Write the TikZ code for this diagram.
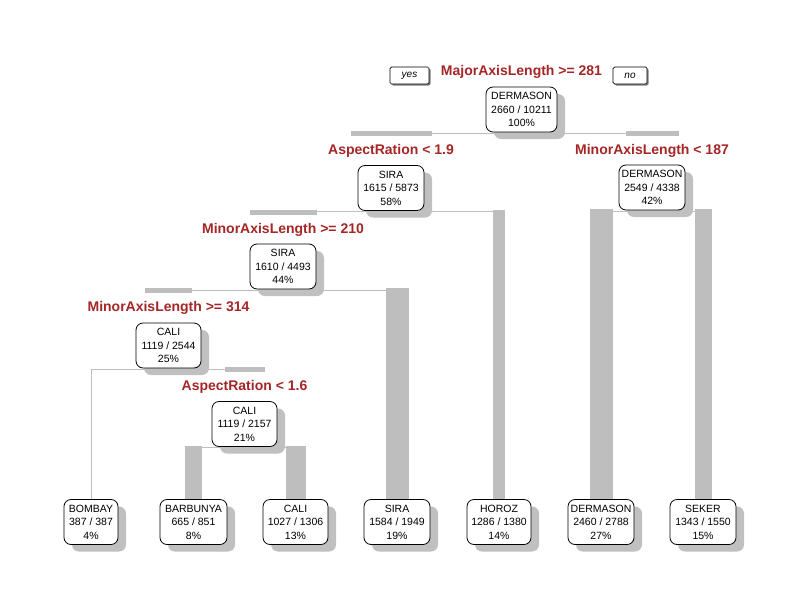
\documentclass[tikz,border=0pt]{standalone}
\usepackage{fontspec}
\setmainfont{Liberation Sans}
\usetikzlibrary{shadows}
\definecolor{splitred}{RGB}{165,38,38}
\definecolor{branchgray}{RGB}{190,190,190}
\definecolor{shadowgray}{RGB}{192,192,192}
\pgfdeclarelayer{paper}
\pgfdeclarelayer{bg}
\pgfsetlayers{paper,bg,main}
\begin{document}
\begin{tikzpicture}[x=1pt,y=-1pt,
  tnode/.style={draw=black, line width=0.8pt, fill=white, rounded corners=7pt,
    minimum height=45pt, inner sep=0pt, align=center,
    font=\fontsize{10.5}{13.5}\selectfont,
    drop shadow={shadow xshift=8pt, shadow yshift=-7pt, fill=shadowgray, opacity=1}},
  splitlab/.style={fill=white, inner xsep=2pt, inner ysep=0pt, text height=18pt,
    text depth=12pt, anchor=base, text=splitred,
    font=\fontsize{14}{16}\selectfont\bfseries},
  thinbranch/.style={draw=branchgray, line width=1pt},
  thickbranch/.style={draw=branchgray, line cap=butt},
  ynbox/.style={draw=black, line width=0.7pt, fill=white, rounded corners=1.5pt,
    minimum height=17pt, inner sep=0pt, font=\fontsize{10}{12}\selectfont\itshape,
    drop shadow={shadow xshift=1.5pt, shadow yshift=-1.5pt, fill=gray, opacity=1}}
]
\begin{pgfonlayer}{paper}
\fill[white] (0,0) rectangle (800,600);
\end{pgfonlayer}
\useasboundingbox (0,0) rectangle (800,600);

% split labels
\node[splitlab] (s1) at (521.5,75) {MajorAxisLength >= 281};
\node[splitlab] (s2) at (391,154) {AspectRation < 1.9};
\node[splitlab] (s3) at (652,154) {MinorAxisLength < 187};
\node[splitlab] (s4) at (283,233) {MinorAxisLength >= 210};
\node[splitlab] (s5) at (168.5,311) {MinorAxisLength >= 314};
\node[splitlab] (s6) at (244.5,390) {AspectRation < 1.6};

% yes / no
\node[ynbox, minimum width=39pt] (yes) at (409.5,75.5) {yes};
\node[ynbox, minimum width=34pt] (no) at (630,75.5) {no};

% internal nodes
\node[tnode, minimum width=71pt] (n1) at (521.5,109.5) {DERMASON\\2660 / 10211\\100\%};
\node[tnode, minimum width=66pt] (n2) at (391,188) {SIRA\\1615 / 5873\\58\%};
\node[tnode, minimum width=66pt] (n3) at (652,187.5) {DERMASON\\2549 / 4338\\42\%};
\node[tnode, minimum width=66pt] (n4) at (283,266.5) {SIRA\\1610 / 4493\\44\%};
\node[tnode, minimum width=65pt] (n5) at (168.5,345.5) {CALI\\1119 / 2544\\25\%};
\node[tnode, minimum width=65pt] (n6) at (244.5,424) {CALI\\1119 / 2157\\21\%};

% leaves
\node[tnode, minimum width=54pt] (l1) at (91,522) {BOMBAY\\387 / 387\\4\%};
\node[tnode, minimum width=67pt] (l2) at (193.5,522) {BARBUNYA\\665 / 851\\8\%};
\node[tnode, minimum width=65pt] (l3) at (295.5,522) {CALI\\1027 / 1306\\13\%};
\node[tnode, minimum width=66pt] (l4) at (397,522) {SIRA\\1584 / 1949\\19\%};
\node[tnode, minimum width=64pt] (l5) at (499,522) {HOROZ\\1286 / 1380\\14\%};
\node[tnode, minimum width=66pt] (l6) at (601,522) {DERMASON\\2460 / 2788\\27\%};
\node[tnode, minimum width=66pt] (l7) at (703,522) {SEKER\\1343 / 1550\\15\%};

% branch levels
\foreach \p in {n1,n2,n3,n4,n5,n6} {
  \coordinate (\p j) at ([yshift=-1pt]\p.south);
  \coordinate (\p t) at ([yshift=1pt]\p.south);
}

\begin{pgfonlayer}{bg}
  % horizontal thin lines
  \draw[thinbranch] (n1j -| n2.north) -- (n1j -| n3.north);
  \draw[thinbranch] (n2j -| n4.north) -- (n2j -| l5.north);
  \draw[thinbranch] (n3j -| l6.north) -- (n3j -| l7.north);
  \draw[thinbranch] (n4j -| n5.north) -- (n4j -| l4.north);
  \draw[thinbranch] (n5j -| l1.north) -- (n5j -| n6.north);
  \draw[thinbranch] (n6j -| l2.north) -- (n6j -| l3.north);
  % vertical branches, width by node
  \draw[thickbranch, line width=81pt] (n1t -| n2.north) -- (n2.north);
  \draw[thickbranch, line width=53pt] (n1t -| n3.north) -- (n3.north);
  \draw[thickbranch, line width=67pt] (n2t -| n4.north) -- (n4.north);
  \draw[thickbranch, line width=12pt] (n2t -| l5.north) -- (l5.north);
  \draw[thickbranch, line width=23pt] (n3t -| l6.north) -- (l6.north);
  \draw[thickbranch, line width=17pt] (n3t -| l7.north) -- (l7.north);
  \draw[thickbranch, line width=47pt] (n4t -| n5.north) -- (n5.north);
  \draw[thickbranch, line width=23pt] (n4t -| l4.north) -- (l4.north);
  \draw[thinbranch] (n5j -| l1.north) -- (l1.north);
  \draw[thickbranch, line width=40pt] (n5t -| n6.north) -- (n6.north);
  \draw[thickbranch, line width=17pt] (n6t -| l2.north) -- (l2.north);
  \draw[thickbranch, line width=20pt] (n6t -| l3.north) -- (l3.north);
\end{pgfonlayer}
\end{tikzpicture}
\end{document}
